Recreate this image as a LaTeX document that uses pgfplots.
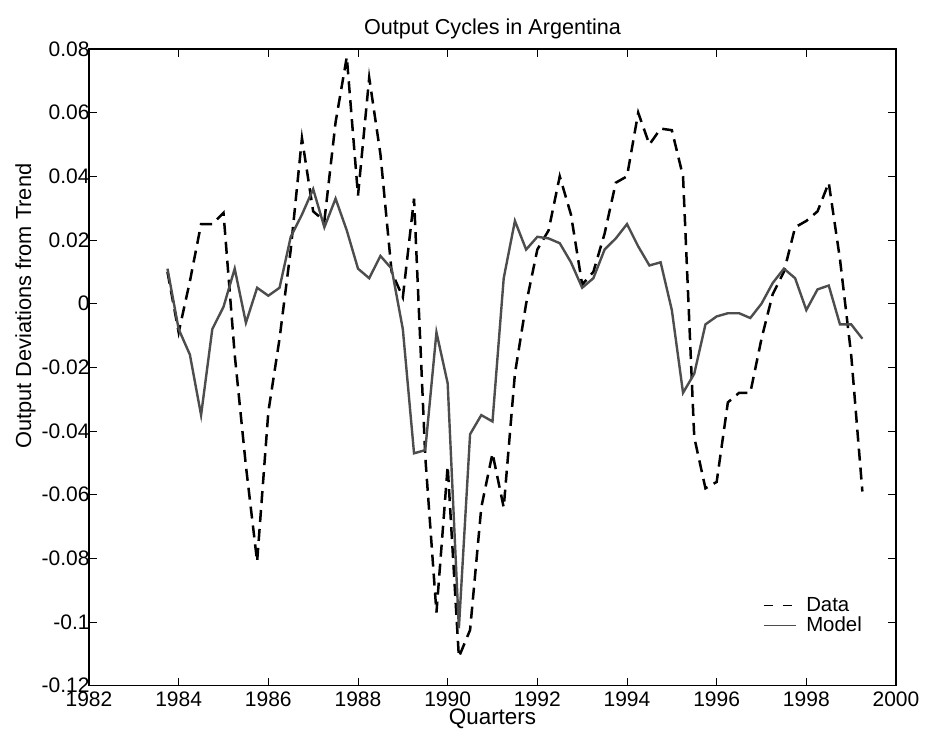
\documentclass[border=0pt]{standalone}
\usepackage{pgfplots}
\pgfplotsset{compat=1.18}
\usepackage{fontspec}
\setmainfont{Liberation Sans}

\definecolor{modelgray}{RGB}{77,77,77}

\begin{document}
\begin{tikzpicture}
\begin{axis}[
    at={(0pt,0pt)}, anchor=south west,
    scale only axis,
    width=403.5pt, height=318.35pt,
    xmin=1982, xmax=2000,
    ymin=-0.12, ymax=0.08,
    xtick={1982,1984,...,2000},
    xticklabels={1982,1984,1986,1988,1990,1992,1994,1996,1998,2000},
    ytick={-0.12,-0.1,-0.08,-0.06,-0.04,-0.02,0,0.02,0.04,0.06,0.08},
    yticklabels={-0.12,-0.1,-0.08,-0.06,-0.04,-0.02,0,0.02,0.04,0.06,0.08},
    tick align=inside,
    major tick length=4pt,
    tick style={black, line width=0.4pt},
    axis line style={black, line width=0.6pt},
    ticklabel style={font=\fontsize{10.5}{12}\selectfont},
    xticklabel style={inner sep=0pt, anchor=north, yshift=-3pt},
    yticklabel style={inner sep=0pt, anchor=east, xshift=0.5pt},
    /pgf/number format/assume math mode=true,
    title={Output Cycles in Argentina},
    title style={font=\fontsize{10.8}{12}\selectfont, at={(0.5,1)}, anchor=south, inner sep=0pt, yshift=-1pt},
    xlabel={Quarters},
    xlabel style={font=\fontsize{11.2}{13}\selectfont, at={(axis description cs:0.5,0)}, anchor=north, inner sep=0pt, yshift=-11.5pt},
    ylabel={Output Deviations from Trend},
    ylabel style={font=\fontsize{10.9}{13}\selectfont, at={(axis description cs:-0.0657,0.596)}, anchor=south, rotate=0, inner sep=0pt},
    legend style={draw=none, fill=none, at={(0.835,0.1425)}, anchor=north west,
        font=\fontsize{10.2}{10.2}\selectfont, row sep=-1pt, column sep=4pt, inner sep=0pt,
        nodes={inner sep=1pt}},
    legend cell align=left,
]

% data series (dashed)
\addplot[black, line width=1.25pt, dash pattern=on 6pt off 3.5pt,
    legend image code/.code={
        \draw[black, line width=0.5pt, dash pattern=on 4.5pt off 5pt] (0pt,0pt) -- (16pt,0pt);}]
coordinates {
(1983.75,0.010)(1984.00,-0.009)(1984.25,0.007)(1984.50,0.025)(1984.75,0.025)
(1985.00,0.0285)(1985.25,-0.016)(1985.50,-0.051)(1985.75,-0.081)(1986.00,-0.034)
(1986.25,-0.011)(1986.50,0.017)(1986.75,0.052)(1987.00,0.029)(1987.25,0.026)
(1987.50,0.057)(1987.75,0.0775)(1988.00,0.034)(1988.25,0.071)(1988.50,0.047)
(1988.75,0.010)(1989.00,0.002)(1989.25,0.033)(1989.50,-0.048)(1989.75,-0.097)
(1990.00,-0.051)(1990.25,-0.111)(1990.50,-0.1025)(1990.75,-0.064)(1991.00,-0.047)
(1991.25,-0.064)(1991.50,-0.022)(1991.75,0.000)(1992.00,0.017)(1992.25,0.023)
(1992.50,0.040)(1992.75,0.028)(1993.00,0.006)(1993.25,0.010)(1993.50,0.022)
(1993.75,0.038)(1994.00,0.040)(1994.25,0.060)(1994.50,0.050)(1994.75,0.055)
(1995.00,0.0545)(1995.25,0.040)(1995.50,-0.042)(1995.75,-0.058)(1996.00,-0.056)
(1996.25,-0.031)(1996.50,-0.028)(1996.75,-0.028)(1997.00,-0.011)(1997.25,0.003)
(1997.50,0.010)(1997.75,0.024)(1998.00,0.026)(1998.25,0.029)(1998.50,0.038)
(1998.75,0.014)(1999.00,-0.016)(1999.25,-0.059)
};
\addlegendentry{Data}

% model series (solid gray)
\addplot[modelgray, line width=1.2pt,
    legend image code/.code={
        \draw[modelgray, line width=0.5pt] (0pt,0pt) -- (16pt,0pt);}]
coordinates {
(1983.75,0.011)(1984.00,-0.008)(1984.25,-0.016)(1984.50,-0.035)(1984.75,-0.008)
(1985.00,-0.001)(1985.25,0.011)(1985.50,-0.006)(1985.75,0.005)(1986.00,0.0025)
(1986.25,0.005)(1986.50,0.021)(1986.75,0.028)(1987.00,0.036)(1987.25,0.024)
(1987.50,0.033)(1987.75,0.023)(1988.00,0.011)(1988.25,0.008)(1988.50,0.015)
(1988.75,0.011)(1989.00,-0.008)(1989.25,-0.047)(1989.50,-0.046)(1989.75,-0.009)
(1990.00,-0.025)(1990.25,-0.102)(1990.50,-0.041)(1990.75,-0.035)(1991.00,-0.037)
(1991.25,0.008)(1991.50,0.026)(1991.75,0.017)(1992.00,0.021)(1992.25,0.0205)
(1992.50,0.019)(1992.75,0.013)(1993.00,0.005)(1993.25,0.008)(1993.50,0.017)
(1993.75,0.0205)(1994.00,0.025)(1994.25,0.018)(1994.50,0.012)(1994.75,0.013)
(1995.00,-0.002)(1995.25,-0.028)(1995.50,-0.022)(1995.75,-0.0065)(1996.00,-0.004)
(1996.25,-0.003)(1996.50,-0.003)(1996.75,-0.0045)(1997.00,0.000)(1997.25,0.0065)
(1997.50,0.011)(1997.75,0.008)(1998.00,-0.002)(1998.25,0.0045)(1998.50,0.0057)
(1998.75,-0.0065)(1999.00,-0.0065)(1999.25,-0.011)
};
\addlegendentry{Model}

\end{axis}
\pgfresetboundingbox
\useasboundingbox (-44.5pt,-24.15pt) rectangle (418.5pt,342.85pt);
\end{tikzpicture}
\end{document}
